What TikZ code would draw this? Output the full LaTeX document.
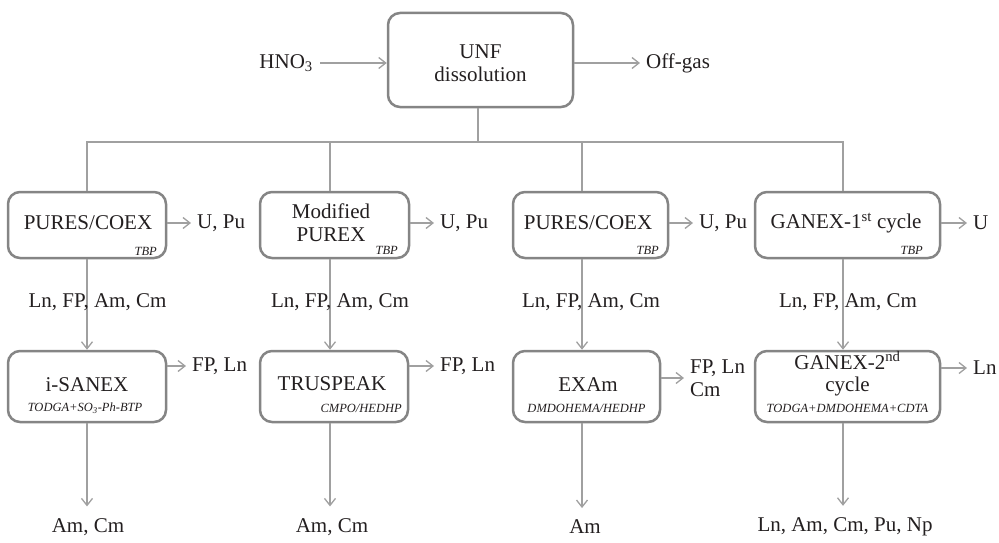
\documentclass[tikz,border=0pt]{standalone}
\usepackage{fontspec}
\setmainfont{Liberation Serif}
\usetikzlibrary{arrows.meta,shadows}
\definecolor{boxc}{HTML}{858585}
\definecolor{linec}{HTML}{A0A0A0}
\definecolor{txt}{HTML}{231F20}
\begin{document}
\begin{tikzpicture}[x=1pt,y=-1pt,
  every node/.style={text=txt, font=\rmfamily\fontsize{21}{22.5}\selectfont, inner sep=2pt},
  procbox/.style={draw=boxc, line width=2.5pt, rounded corners=12pt, fill=white,
    drop shadow={shadow xshift=0.7pt, shadow yshift=-0.9pt, opacity=0.35}},
  boxtext/.style={align=center},
  solv/.style={font=\rmfamily\itshape\fontsize{12.5}{14}\selectfont, inner sep=0pt},
  flow/.style={draw=linec, line width=1.3pt},
  arr/.style={flow, -{Straight Barb[length=7pt,width=11pt,line width=1.3pt]}},
  outl/.style={anchor=west, align=left, inner xsep=6pt},
  botl/.style={outer sep=10pt}]
\useasboundingbox (0,0) rectangle (999,543);
% coordinates for vertical stems
\coordinate (s1) at (87,0);
\coordinate (s2) at (330,0);
\coordinate (s3) at (582,0);
\coordinate (s4) at (843,0);
\coordinate (j) at (478,142);
% top box
\node[procbox, minimum width=185pt, minimum height=94pt] (unf) at (480.5,60) {};
\node[boxtext] (unft) at (480.5,63) {UNF\\dissolution};
\node[anchor=east, inner xsep=7pt] (hno) at (320,63) {HNO\textsubscript{3}};
\node[outl] (off) at (640,63) {Off-gas};
\draw[arr] (hno.east) -- (unf.west |- hno.east);
\draw[arr] (unf.east |- off.west) -- (off.west);
% row 1 boxes
\node[procbox, minimum width=158pt, minimum height=66pt] (r1a) at (87,225) {};
\node[procbox, minimum width=149pt, minimum height=66pt] (r1b) at (334.5,225) {};
\node[procbox, minimum width=155pt, minimum height=66pt] (r1c) at (590.5,225) {};
\node[procbox, minimum width=185pt, minimum height=66pt] (r1d) at (847.5,225) {};
\node[boxtext] (t1a) at (88,223) {PURES/COEX};
\node[boxtext] (t1b) at (331,222.5) {Modified\\PUREX};
\node[boxtext] (t1c) at (588,223) {PURES/COEX};
\node[boxtext] (t1d) at (846,223) {GANEX-1\textsuperscript{st} cycle};
\node[solv, anchor=east] (v1a) at (157,251) {TBP};
\node[solv, anchor=east] (v1b) at (398,250) {TBP};
\node[solv, anchor=east] (v1c) at (659,250) {TBP};
\node[solv, anchor=east] (v1d) at (923,250) {TBP};
% row 1 outputs
\node[outl] (u1) at (191,223) {U, Pu};
\node[outl] (u2) at (434,223) {U, Pu};
\node[outl] (u3) at (693,223) {U, Pu};
\node[outl] (u4) at (967,223) {U};
\draw[arr] (r1a.east |- u1.west) -- (u1.west);
\draw[arr] (r1b.east |- u2.west) -- (u2.west);
\draw[arr] (r1c.east |- u3.west) -- (u3.west);
\draw[arr] (r1d.east |- u4.west) -- (u4.west);
% tree from dissolution
\draw[flow] (unf.south -| j) -- (j);
\draw[flow] (r1a.north -| s1) -- (s1 |- j) -- (s4 |- j) -- (r1d.north -| s4);
\draw[flow] (s2 |- j) -- (r1b.north -| s2);
\draw[flow] (s3 |- j) -- (r1c.north -| s3);
% row 2 boxes
\node[procbox, minimum width=158pt, minimum height=71pt] (r2a) at (87,386.5) {};
\node[procbox, minimum width=148pt, minimum height=71pt] (r2b) at (334,386.5) {};
\node[procbox, minimum width=147pt, minimum height=71pt] (r2c) at (586.5,386.5) {};
\node[procbox, minimum width=185pt, minimum height=71pt] (r2d) at (847.5,386.5) {};
% vertical arrows row1 -> row2 with labels
\draw[arr] (r1a.south -| s1) -- (r2a.north -| s1);
\draw[arr] (r1b.south -| s2) -- (r2b.north -| s2);
\draw[arr] (r1c.south -| s3) -- (r2c.north -| s3);
\draw[arr] (r1d.south -| s4) -- (r2d.north -| s4);
\node (m1) at (97.5,302) {Ln, FP, Am, Cm};
\node (m2) at (340,302) {Ln, FP, Am, Cm};
\node (m3) at (591,302) {Ln, FP, Am, Cm};
\node (m4) at (848,302) {Ln, FP, Am, Cm};
% row 2 texts
\node[boxtext] (t2a) at (87,385) {i-SANEX};
\node[boxtext] (t2b) at (332,384) {TRUSPEAK};
\node[boxtext] (t2c) at (588,385) {EXAm};
\node[boxtext] (t2d) at (847.5,374) {GANEX-2\textsuperscript{nd}\\cycle};
\node[solv] (v2a) at (85,408) {TODGA+SO\textsubscript{3}-Ph-BTP};
\node[solv, anchor=east] (v2b) at (402,408) {CMPO/HEDHP};
\node[solv] (v2c) at (586.5,408) {DMDOHEMA/HEDHP};
\node[solv] (v2d) at (847.5,408) {TODGA+DMDOHEMA+CDTA};
% row 2 outputs
\node[outl] (f1) at (186,366) {FP, Ln};
\node[outl] (f2) at (434,366) {FP, Ln};
\node[outl] (f3) at (684,378) {FP, Ln\\Cm};
\node[outl] (f4) at (967,368) {Ln};
\draw[arr] (r2a.east |- f1.west) -- (f1.west);
\draw[arr] (r2b.east |- f2.west) -- (f2.west);
\draw[arr] (r2c.east |- f3.west) -- (f3.west);
\draw[arr] (r2d.east |- f4.west) -- (f4.west);
% bottom outputs
\node[botl] (b1) at (88,527) {Am, Cm};
\node[botl] (b2) at (332,527) {Am, Cm};
\node[botl] (b3) at (585,527) {Am};
\node[botl] (b4) at (845,527) {Ln, Am, Cm, Pu, Np};
\draw[arr] (r2a.south -| s1) -- (b1.north -| s1);
\draw[arr] (r2b.south -| s2) -- (b2.north -| s2);
\draw[arr] (r2c.south -| s3) -- (b3.north -| s3);
\draw[arr] (r2d.south -| s4) -- (b4.north -| s4);
\end{tikzpicture}
\end{document}
